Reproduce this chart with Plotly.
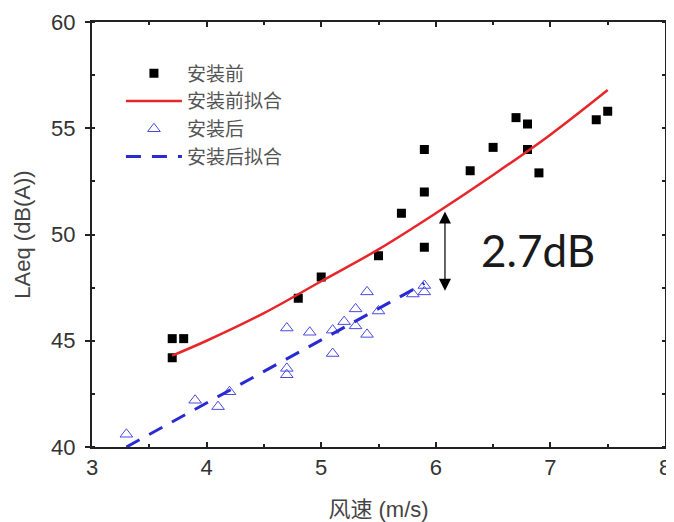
import plotly.graph_objects as go

# Data
before_x = [3.7, 3.7, 3.8, 4.8, 5.0, 5.5, 5.7, 5.9, 5.9, 5.9, 6.3, 6.5, 6.7, 6.8, 6.8, 6.9, 7.4, 7.5]
before_y = [44.2, 45.1, 45.1, 47.0, 48.0, 49.0, 51.0, 52.0, 54.0, 49.4, 53.0, 54.1, 55.5, 55.2, 54.0, 52.9, 55.4, 55.8]

before_fit_x = [3.7, 4.0, 4.5, 5.0, 5.5, 6.0, 6.5, 7.0, 7.5]
before_fit_y = [44.3, 45.0, 46.3, 47.8, 49.3, 51.0, 52.8, 54.7, 56.8]

after_x = [3.3, 3.9, 4.1, 4.2, 4.7, 4.7, 4.7, 4.9, 5.1, 5.1, 5.2, 5.3, 5.3, 5.4, 5.4, 5.5, 5.8, 5.9, 5.9]
after_y = [40.6, 42.2, 41.9, 42.6, 45.6, 43.7, 43.4, 45.4, 45.5, 44.4, 45.9, 45.7, 46.5, 47.3, 45.3, 46.4, 47.2, 47.3, 47.6]

after_fit_x = [3.3, 5.9]
after_fit_y = [40.0, 47.7]

x_ticks = [3, 4, 5, 6, 7, 8]
y_ticks = [40, 45, 50, 55, 60]

font_cjk = "Noto Sans CJK SC, Liberation Sans, Arial"
font_num = "Liberation Sans, Arial"

fig = go.Figure()
fig.add_trace(go.Scatter(
    x=before_x, y=before_y, mode="markers", name="安装前",
    marker=dict(symbol="square", size=9, color="black")))
fig.add_trace(go.Scatter(
    x=before_fit_x, y=before_fit_y, mode="lines", name="安装前拟合",
    line=dict(color="#e8262a", width=2.5, shape="spline")))
fig.add_trace(go.Scatter(
    x=after_x, y=after_y, mode="markers", name="安装后",
    marker=dict(symbol="triangle-up-open", size=11, color="#4a4ae6", line=dict(width=1))))
fig.add_trace(go.Scatter(
    x=after_fit_x, y=after_fit_y, mode="lines", name="安装后拟合",
    line=dict(color="#2a2ad2", width=3, dash="15px,11px")))

# double-headed arrow and label
fig.add_annotation(x=6.08, y=47.35, ax=6.08, ay=51.15, xref="x", yref="y",
                   axref="x", ayref="y", text="", showarrow=True,
                   arrowhead=2, startarrowhead=2, arrowside="end+start",
                   arrowsize=2.0, startarrowsize=2.0, arrowwidth=1.2, arrowcolor="black")
fig.add_annotation(x=6.89, y=49.27, xref="x", yref="y", text="2.7dB", showarrow=False,
                   font=dict(family="Lato, Open Sans, Arial", size=44, color="#1a1a1a"))

axis_common = dict(showline=True, linecolor="#222222", linewidth=2, mirror="ticks",
                   showgrid=False, zeroline=False,
                   tickfont=dict(family=font_num, size=22, color="#333333"),
                   tickcolor="#222222", ticklen=5, tickwidth=1.5)

fig.update_xaxes(range=[3, 8], tickvals=x_ticks, ticks="inside",
                 minor=dict(ticks="inside", ticklen=3, dtick=0.5, tickcolor="#222222"),
                 title=dict(text="风速 (m/s)",
                            font=dict(family="Liberation Sans, Noto Sans CJK SC, Arial", size=22, color="#444444"),
                            standoff=22),
                 **axis_common)
fig.update_yaxes(range=[40, 60], tickvals=y_ticks, ticks="outside", ticklabelstandoff=5,
                 minor=dict(ticks="inside", ticklen=3, dtick=2.5, tickcolor="#222222"),
                 title=dict(text="LAeq (dB(A))", font=dict(family=font_num, size=22, color="#444444"), standoff=14),
                 **axis_common)

fig.update_layout(
    width=674, height=522,
    margin=dict(l=84, r=17, t=14, b=83, autoexpand=False),
    paper_bgcolor="white", plot_bgcolor="white",
    showlegend=True,
    legend=dict(x=0.0505, y=0.9235, xanchor="left", yanchor="top",
                bgcolor="rgba(0,0,0,0)", itemwidth=56, tracegroupgap=0,
                font=dict(family=font_cjk, size=19, color="#555555")),
)

fig.write_html("out.html")
